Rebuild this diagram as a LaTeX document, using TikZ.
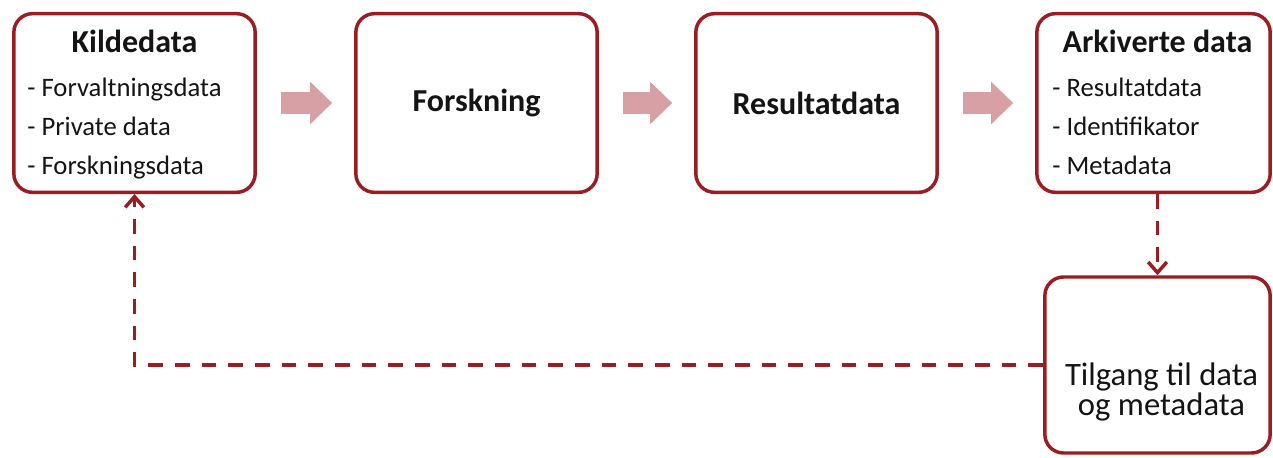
\documentclass[tikz,border=0pt]{standalone}
\usepackage{fontspec}
\setmainfont{Carlito}
\usepackage{tikz}
\usetikzlibrary{arrows.meta,positioning}

\definecolor{boxred}{RGB}{155,28,33}
\definecolor{flowpink}{RGB}{214,160,164}
\definecolor{ink}{RGB}{20,20,20}

\tikzset{
  stage/.style={draw=boxred, line width=2.6pt, rounded corners=14pt,
    minimum width=181pt, minimum height=134pt, inner sep=0pt, text=ink},
  heading/.style={font=\fontsize{24}{28}\selectfont\bfseries, text=ink, inner sep=0pt},
  items/.style={font=\fontsize{20}{29.25}\selectfont, text=ink, align=left, inner sep=0pt, anchor=base west},
  flow/.style={draw=flowpink, line width=16.5pt,
    -{Triangle[length=16.5pt,width=32pt,line width=0pt]},
    shorten <=18pt, shorten >=16.5pt},
  feedback/.style={draw=boxred, line width=2.8pt, dash pattern=on 11pt off 9pt,
    -{Straight Barb[length=8pt,width=14pt,line width=2.6pt]}},
}

\begin{document}
\begin{tikzpicture}[x=0.75pt,y=-0.75pt]
  \useasboundingbox (0,0) rectangle (1273,457);

  % Top row
  \node[stage] (kilde) at (134.5,103) {};
  \node[stage] (forsk) at (476.5,103) {};
  \node[stage] (result) at (816.5,103) {};
  \node[stage, minimum width=175pt] (arkiv) at (1153.5,103) {};

  % Access box
  \node[stage, minimum width=169pt, minimum height=132pt] (tilgang) at (1157.5,365) {};

  % Box texts
  \node[heading, anchor=base] (kildetitle) at ([yshift=-30.75pt]kilde.north) {Kildedata};
  \node[items] (kildeitems) at ([xshift=11.25pt,yshift=-122.25pt]kilde.north west)
    {- Forvaltningsdata\\- Private data\\- Forskningsdata};
  \node[heading] (forsktitle) at (forsk.center) {Forskning};
  \node[heading] (resulttitle) at (result.center) {Resultatdata};
  \node[heading, anchor=base] (arkivtitle) at ([xshift=3pt,yshift=-30.75pt]arkiv.north) {Arkiverte data};
  \node[items] (arkivitems) at ([xshift=12.75pt,yshift=-122.25pt]arkiv.north west)
    {- Resultatdata\\- Identifikator\\- Metadata};
  \node[font=\fontsize{24.5}{22.5}\selectfont, text=ink, align=center, inner sep=0pt, anchor=base]
    (tilgangtext) at ([xshift=3pt,yshift=-105pt]tilgang.north) {Tilgang til data\\og metadata};

  % Flow
  \draw[flow] (kilde.east) -- (forsk.west);
  \draw[flow] (forsk.east) -- (result.west);
  \draw[flow] (result.east) -- (arkiv.west);

  % Dashed links
  \draw[feedback] (tilgang.north |- arkiv.south) -- (tilgang.north);
  \draw[feedback] (tilgang.west) -| (kilde.south);
\end{tikzpicture}
\end{document}
